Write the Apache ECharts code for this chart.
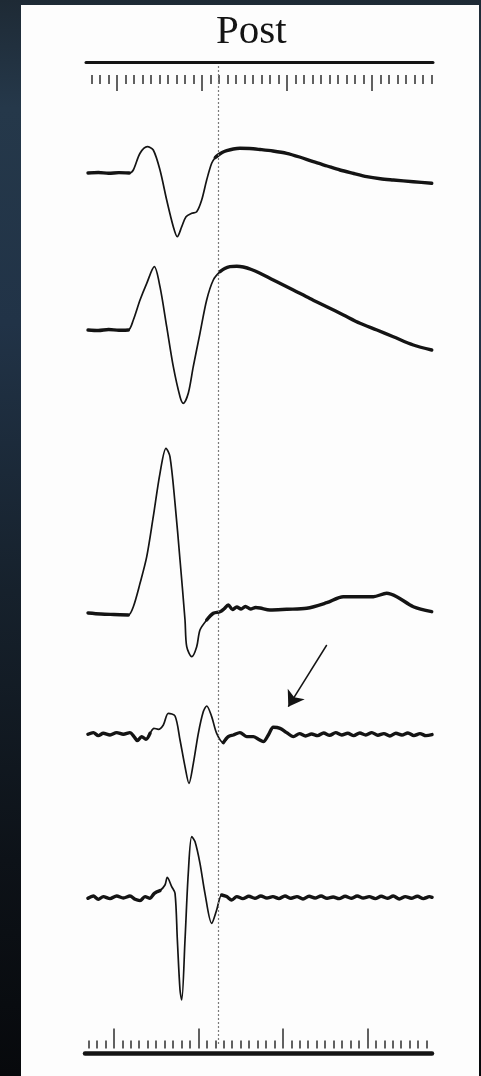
<!DOCTYPE html>
<html>
<head>
<meta charset="utf-8">
<script src="https://cdn.jsdelivr.net/npm/echarts@6/dist/echarts.min.js"></script>
<style>
  html, body { margin: 0; padding: 0; width: 481px; height: 1076px; overflow: hidden;
    background: linear-gradient(to bottom, #1e2a35 0%, #25384a 10%, #213347 30%, #16212c 55%, #0d1218 80%, #07090c 100%); }
  #panel { position: absolute; left: 21px; top: 5px; width: 458px; height: 1071px; background: #fdfdfd; }
  #chart { position: absolute; left: 0; top: 0; width: 481px; height: 1076px; }
</style>
</head>
<body>
<div id="panel"></div>
<div id="chart"></div>
<script>
// Time in ms (0–40 ms sweep), amplitude relative to each trace's own baseline.
const trace1 = [
  [0, 0], [1.2, 0.5], [2.4, -0.3], [3.6, 0.4], [4.8, 0], [5.27, 3], [6.05, 19.7], [6.9, 26.3],
  [7.59, 23], [8.37, 3], [9.15, -27], [9.92, -53.7], [10.38, -63.7], [10.9, -53.7], [11.4, -43.7],
  [12.06, -40.3], [12.64, -38.7], [13.22, -27], [13.8, -7], [14.38, 9.7], [14.8, 15.5], [15.15, 18],
  [15.6, 20.5], [16.13, 22.3], [16.9, 24], [17.67, 24.7], [18.8, 24.5], [20.0, 23.5], [21.5, 22],
  [23.1, 19.7], [24.6, 16], [26.2, 11.3], [27.8, 7], [29.3, 3], [30.9, -0.5], [32.41, -3.7],
  [34, -5.8], [35.5, -7], [37.83, -8.7], [39.97, -10.3]
];
const trace2 = [
  [0, 0], [1.2, -0.5], [2.4, 0.5], [3.6, -0.3], [4.69, 0], [5.27, 10], [6.05, 30], [6.83, 46.7],
  [7.71, 63.3], [8.37, 43.3], [9.15, 3.3], [9.92, -36.7], [10.7, -66.7], [11.08, -73.3], [11.66, -63.3],
  [12.24, -36.7], [13.02, -3.3], [13.8, 30], [14.57, 50], [15.35, 58.3], [15.9, 61.5], [16.5, 63.3],
  [17.3, 63.8], [18.06, 63], [19.0, 60.5], [20.0, 56.7], [21.9, 48.5], [23.87, 40], [25.8, 31.5],
  [27.76, 23.3], [29.7, 15], [31.63, 6.7], [33.6, 0], [35.5, -6.7], [37.83, -15], [39.97, -20]
];
const trace3 = [
  [0, 0], [1.5, -1], [3.0, -1.5], [4.69, -2], [5.27, 6.3], [6.05, 29.7], [6.83, 56.3], [7.59, 96.3],
  [8.37, 139.7], [9.07, 164.7], [9.53, 156.3], [10.12, 109.7], [10.7, 53], [11.28, -7], [11.48, -33.7],
  [12.06, -43.7], [12.64, -33.7], [13.02, -17], [13.8, -7], [14.57, -0.3], [15.35, 1.3], [15.8, 4],
  [16.31, 8], [16.8, 3.5], [17.3, 6], [17.8, 4], [18.3, 6.5], [18.9, 4], [19.5, 5.5], [20.0, 5],
  [21.16, 3], [23.1, 3.7], [25.43, 4.7], [27.76, 10.3], [29.69, 16.3], [31.63, 16.3], [33.17, 16.3],
  [34.73, 19.7], [35.9, 16.3], [37.83, 6.3], [39.97, 1.3]
];
const trace4 = [
  [0, 0], [0.62, 1.7], [1.2, -1.3], [1.78, 1], [2.56, -0.7], [3.33, 1.7], [4.11, 0], [4.88, 1.7],
  [5.35, -2.3], [5.74, -6.3], [6.24, -2.3], [6.74, -5], [7.21, 1], [7.67, 6], [8.18, 5], [8.76, 9.3],
  [9.34, 21], [10.12, 18.3], [10.7, -5.7], [11.28, -32.3], [11.74, -49], [12.25, -29], [12.83, 1],
  [13.41, 22.7], [13.8, 28.3], [14.38, 17.7], [14.96, 1], [15.74, -8.3], [16.31, -2.3], [16.9, -0.7],
  [17.67, 1.7], [18.45, -2.3], [19.22, -2.3], [19.81, -5], [20.39, -7.3], [20.97, -0.7], [21.55, 7],
  [22.33, 6], [23.1, 1.7], [23.88, -2.3], [24.6, 0.7], [25.3, -1.7], [26.0, 0.3], [26.7, -1.3],
  [27.4, 1.3], [28.1, -1], [28.8, 1.7], [29.5, -0.7], [30.2, 1], [30.9, -1.3], [31.6, 1.3], [32.3, -0.7],
  [33.0, 1.7], [33.7, -1], [34.4, 0.7], [35.1, -1.7], [35.8, 1], [36.5, -0.7], [37.2, 1.3], [37.9, -1.3],
  [38.6, 0.7], [39.3, -1.3], [40.0, -0.3]
];
const trace5 = [
  [0, -1], [0.62, 1.3], [1.2, -2], [1.78, 0.7], [2.56, -1.3], [3.33, 1.3], [4.11, -0.7], [4.88, 1.3],
  [5.47, -2], [6.05, -3.3], [6.63, 0.7], [7.21, -1], [7.71, 4], [8.37, 6.7], [8.95, 12.3], [9.22, 20],
  [9.73, 10.7], [10.12, 4], [10.39, -42.7], [10.7, -92.7], [10.9, -102.7], [11.28, -42.7], [11.66, 24],
  [12.06, 60.7], [12.44, 55.7], [13.02, 34], [13.6, 4], [14.38, -26], [14.96, -12.7], [15.55, 2.3],
  [16.13, 0.7], [16.71, -2.7], [17.3, 0.7], [18.0, -1.3], [18.7, 1], [19.4, -1], [20.1, 1.3], [20.8, -0.7],
  [21.5, 0.7], [22.2, -1.3], [22.9, 1.3], [23.6, -1], [24.3, 0.7], [25.0, -1.7], [25.7, 1], [26.4, -0.7],
  [27.1, 1.3], [27.8, -1], [28.5, 0.3], [29.2, -1.3], [29.9, 1], [30.6, -1], [31.3, 1.3], [32.0, -0.7],
  [32.7, 0.7], [33.4, -1.3], [34.1, 1], [34.8, -1], [35.5, 1.3], [36.2, -1.7], [36.9, 0.7], [37.6, -1],
  [38.3, 1], [39.0, -1.3], [39.7, 0.7], [40.0, 0]
];
const traces = [trace1, trace2, trace3, trace4, trace5];

// Slow parts of each sweep (ms) – the beam writes these heavier than the fast spikes
const slowSpans = [
  [[0, 5.0], [14.5, 40]],
  [[0, 4.9], [14.7, 40]],
  [[0, 5.0], [13.3, 40]],
  [[0, 7.4], [15.3, 40]],
  [[0, 8.5], [15.4, 40]]
];

// Pixel row of each trace's baseline and the half-range of its amplitude axis (1 unit = 1 px)
const baselines = [173, 330, 613, 734.3, 897.3];
const halfRanges = [100, 100, 170, 100, 110];

// Calibration ruler ticks (1 ms per tick) and the longer 10 ms marks
const rulerTicks = [0, 1, 2, 3, 4, 5, 6, 7, 8, 9, 10, 11, 12, 13, 14, 15, 16, 17, 18, 19, 20,
  21, 22, 23, 24, 25, 26, 27, 28, 29, 30, 31, 32, 33, 34, 35, 36, 37, 38, 39, 40];
const majorTicks = [3, 13, 23, 33];

// Stimulus reference time and the annotation arrow (trace 4 coordinates)
const stimulusTime = 15.12;
const arrowFrom = [27.76, 89.3];
const arrowTo = [23.29, 27.6];

const INK = '#141414';
const grids = [], xAxes = [], yAxes = [], series = [];

function addGrid(g) { grids.push(g); return grids.length - 1; }
function hiddenY(gi, min, max) {
  yAxes.push({ type: 'value', gridIndex: gi, show: false, min: min, max: max });
}

// Thick ruler line
function rulerLine(left, right, top, width) {
  const gi = addGrid({ left: left, right: right, top: top, height: 1 });
  xAxes.push({ type: 'value', gridIndex: gi, position: 'top', min: 0, max: 1,
    axisLine: { show: true, lineStyle: { color: INK, width: width } },
    axisTick: { show: false }, axisLabel: { show: false }, splitLine: { show: false } });
  hiddenY(gi, 0, 1);
}
// Row of ticks on a ruler
function rulerTicksRow(left, right, top, height, pos, len, onlyMajor) {
  const gi = addGrid({ left: left, right: right, top: top, height: height });
  xAxes.push({ type: 'category', gridIndex: gi, position: pos, boundaryGap: false,
    data: rulerTicks.map(String),
    axisLine: { show: false },
    axisTick: { show: true, inside: true, length: len,
      interval: onlyMajor ? function (i) { return majorTicks.indexOf(rulerTicks[i]) >= 0; } : 0,
      lineStyle: { color: '#2e2e2e', width: 1.5 } },
    axisLabel: { show: false }, splitLine: { show: false } });
  hiddenY(gi, 0, 1);
}

// Top ruler
rulerLine(86, 48, 61.5, 3);
rulerTicksRow(91.5, 49.5, 65, 10, 'top', 9, false);
rulerTicksRow(91.5, 49.5, 65, 10, 'top', 16, true);
// Bottom ruler
rulerLine(85, 49, 1052.5, 4.5);
rulerTicksRow(88.5, 54.5, 1000, 48.5, 'bottom', 8, false);
rulerTicksRow(88.5, 54.5, 1000, 48.5, 'bottom', 20, true);

// Dotted stimulus line across all traces
const frame = addGrid({ left: 88, right: 49, top: 64, height: 980 });
xAxes.push({ type: 'value', gridIndex: frame, show: false, min: 0, max: 40 });
hiddenY(frame, 0, 1);
series.push({ type: 'line', xAxisIndex: xAxes.length - 1, yAxisIndex: yAxes.length - 1,
  data: [], showSymbol: false, silent: true,
  markLine: { silent: true, symbol: ['none', 'none'], label: { show: false },
    lineStyle: { type: [2, 2], color: '#7a7a7a', width: 1.2 },
    data: [{ xAxis: stimulusTime }] } });

function inSpans(t, spans) {
  return spans.some(function (s) { return t >= s[0] && t <= s[1]; });
}

// Traces: thin full sweep plus heavier overlay on the slow parts
traces.forEach(function (tr, k) {
  const h = halfRanges[k];
  const gi = addGrid({ left: 88, right: 49, top: baselines[k] - h, height: 2 * h });
  xAxes.push({ type: 'value', gridIndex: gi, show: false, min: 0, max: 40 });
  hiddenY(gi, -h, h);
  const xi = xAxes.length - 1, yi = yAxes.length - 1;
  const thin = { type: 'line', xAxisIndex: xi, yAxisIndex: yi,
    data: tr, showSymbol: false, smooth: 0.3, silent: true, clip: false,
    lineStyle: { color: INK, width: 1.7, cap: 'round', join: 'round' } };
  if (k === 3) {
    thin.markLine = { silent: true, symbol: ['none', 'arrow'], symbolSize: 15,
      label: { show: false }, lineStyle: { type: 'solid', color: INK, width: 1.5 },
      itemStyle: { color: INK },
      data: [[{ coord: arrowFrom }, { coord: arrowTo }]] };
  }
  series.push(thin);
  series.push({ type: 'line', xAxisIndex: xi, yAxisIndex: yi,
    data: tr.map(function (p) { return inSpans(p[0], slowSpans[k]) ? p : [p[0], '-']; }),
    showSymbol: false, smooth: 0.3, silent: true, clip: false, connectNulls: false,
    lineStyle: { color: INK, width: 3.4, cap: 'round', join: 'round' } });
});

const chart = echarts.init(document.getElementById('chart'), null, { renderer: 'canvas' });
chart.setOption({
  animation: false,
  backgroundColor: 'transparent',
  grid: grids, xAxis: xAxes, yAxis: yAxes, series: series,
  graphic: [{ type: 'text', left: 216, top: 12, silent: true,
    style: { text: 'Post', font: '41px "Liberation Serif", "DejaVu Serif", serif', fill: INK } }]
});
</script>
</body>
</html>
